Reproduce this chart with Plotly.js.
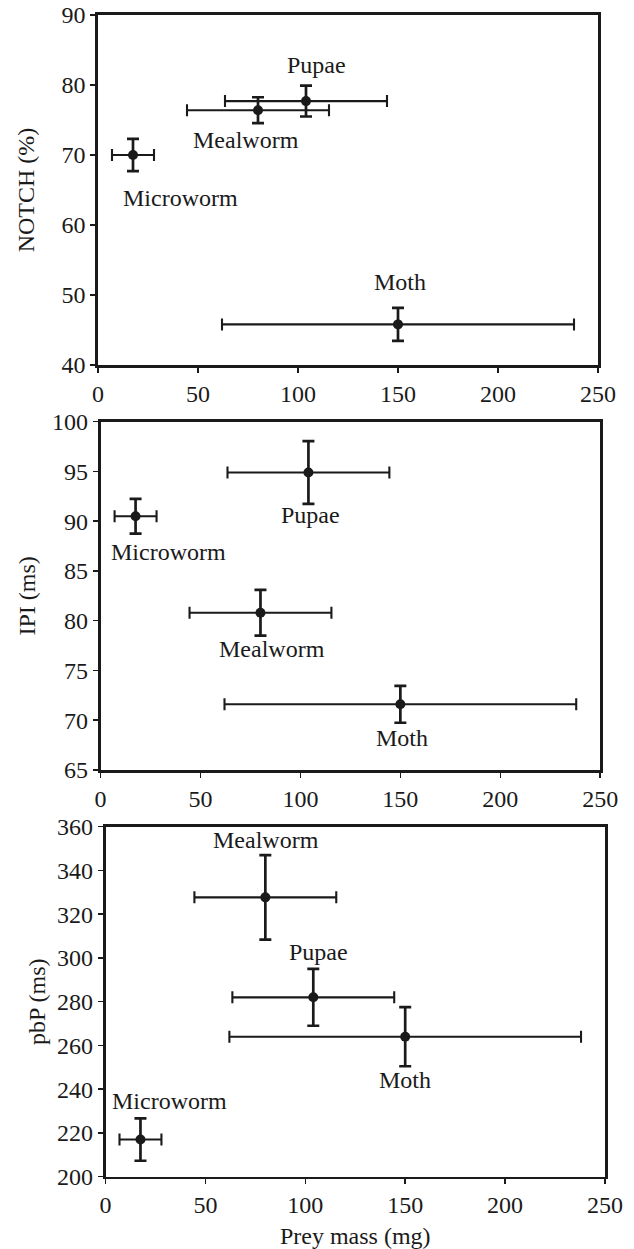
<!DOCTYPE html>
<html>
<head>
<meta charset="utf-8">
<script src="https://cdn.plot.ly/plotly-3.0.1.min.js"></script>
<style>
  html, body { margin: 0; padding: 0; background: #fff; }
  #chart { width: 634px; height: 1249px; }
</style>
</head>
<body>
<div id="chart"></div>
<script>
// ---- Data ----
const categories   = ['Microworm', 'Mealworm', 'Pupae', 'Moth'];
const preyMass     = [17.5, 80, 104, 150];
const preyMassErr  = [10.5, 35.5, 40.5, 88];
const notch        = [70, 76.4, 77.7, 45.8];
const notchErr     = [2.3, 1.85, 2.2, 2.35];
const ipi          = [90.5, 80.8, 94.9, 71.6];
const ipiErr       = [1.75, 2.3, 3.15, 1.85];
const pbp          = [217, 327.7, 282, 264];
const pbpErr       = [9.7, 19.3, 13, 13.5];

const xTitle = 'Prey mass (mg)';
const yTitles = ['NOTCH (%)', 'IPI (ms)', 'pbP (ms)'];

// ---- Layout config (pixels) ----
const W = 634, H = 1249;
const FONT = 'Liberation Serif, Times New Roman, Times, serif';
const INK = '#1a1a1a';
const boxes = [
  {l: 98,    r: 598,   t: 15,    b: 365},
  {l: 100.6, r: 600.2, t: 421.7, b: 770},
  {l: 105.5, r: 605,   t: 826.7, b: 1176.7}
];
const yRanges = [[40, 90], [65, 100], [200, 360]];
const yDticks = [10, 5, 20];
const yStandoff = [20, 10, 5];
// label offsets in px (dx right, dy up), order follows categories
const labelShift = [
  [[47, -43], [-12, -30], [10, 36], [2, 42]],
  [[33, -36], [12, -36], [2, -43], [2, -34]],
  [[29, 39], [1, 57], [5, 45], [0, -43]]
];
const panelsY = [[notch, notchErr], [ipi, ipiErr], [pbp, pbpErr]];

const traces = [];
const annotations = [];
const layout = {
  width: W, height: H,
  margin: {l: 0, r: 0, t: 0, b: 0},
  paper_bgcolor: '#fff', plot_bgcolor: '#fff',
  showlegend: false,
  font: {family: FONT, size: 24, color: INK}
};

boxes.forEach((bx, i) => {
  const n = i === 0 ? '' : String(i + 1);
  const xa = 'xaxis' + n, ya = 'yaxis' + n;
  const axCommon = {
    showgrid: false, zeroline: false,
    showline: true, mirror: true, linecolor: INK, linewidth: 2.7,
    ticks: 'outside', ticklen: 5, tickwidth: 1.5, tickcolor: INK,
    tickfont: {family: FONT, size: 24, color: INK},
    fixedrange: true
  };
  layout[xa] = Object.assign({}, axCommon, {
    domain: [bx.l / W, bx.r / W],
    range: [0, 250], dtick: 50, tick0: 0,
    anchor: 'y' + n
  });
  if (i === 2) {
    layout[xa].title = {text: xTitle, font: {family: FONT, size: 24, color: INK}, standoff: 18};
  }
  layout[ya] = Object.assign({}, axCommon, {
    domain: [1 - bx.b / H, 1 - bx.t / H],
    range: yRanges[i], dtick: yDticks[i], tick0: 0,
    anchor: 'x' + n,
    title: {text: yTitles[i], font: {family: FONT, size: 24, color: INK}, standoff: yStandoff[i]}
  });

  const [vals, errs] = panelsY[i];
  traces.push({
    type: 'scatter', mode: 'markers',
    x: preyMass, y: vals, text: categories,
    xaxis: 'x' + n, yaxis: 'y' + n,
    marker: {size: 10, color: INK},
    error_x: {type: 'data', array: preyMassErr, visible: true, color: INK, thickness: 2.1, width: 6},
    error_y: {type: 'data', array: errs, visible: true, color: INK, thickness: 2.7, width: 6},
    cliponaxis: false,
    hoverinfo: 'text+x+y'
  });

  categories.forEach((c, k) => {
    annotations.push({
      xref: 'x' + n, yref: 'y' + n,
      x: preyMass[k], y: vals[k],
      text: c, showarrow: false,
      xanchor: 'center', yanchor: 'middle',
      xshift: labelShift[i][k][0], yshift: labelShift[i][k][1],
      font: {family: FONT, size: 24, color: INK}
    });
  });
});
layout.annotations = annotations;

Plotly.newPlot('chart', traces, layout, {staticPlot: true, displayModeBar: false});
</script>
</body>
</html>
